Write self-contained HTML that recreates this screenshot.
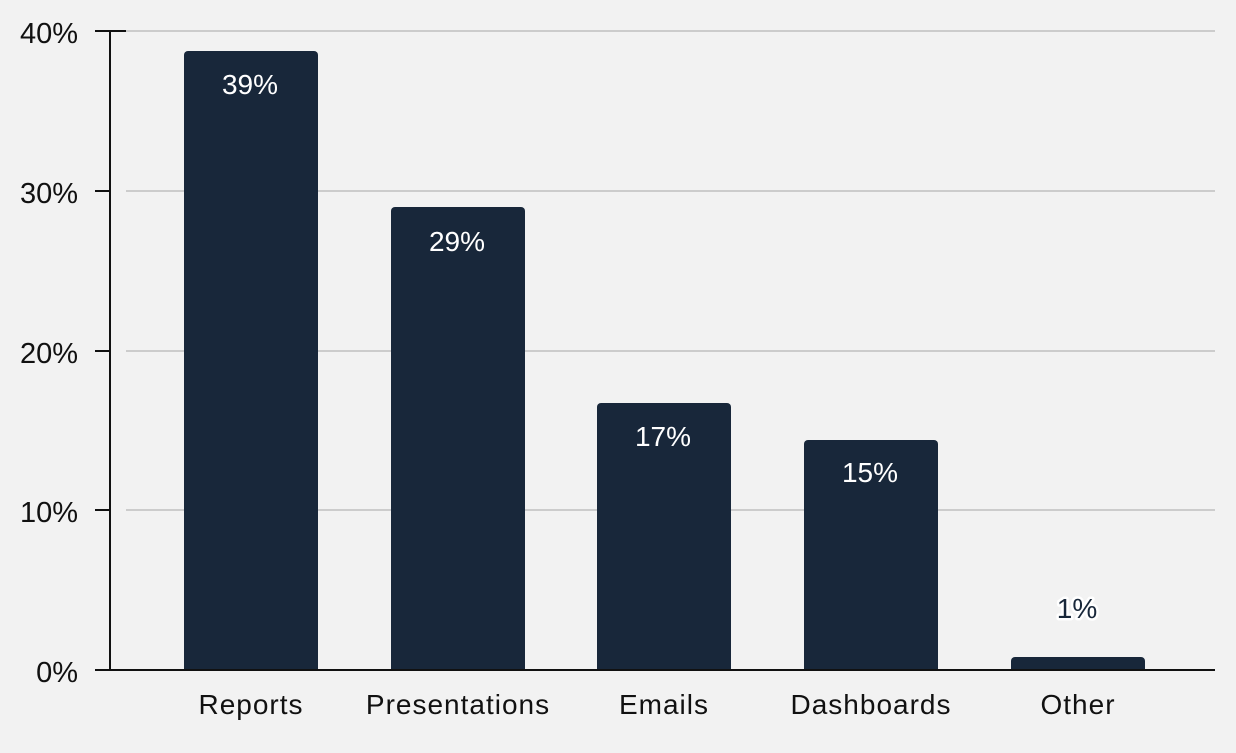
<!DOCTYPE html>
<html><head><style>body{margin:0;background:#f2f2f2}</style></head><body>
<svg width="1236" height="748" xmlns="http://www.w3.org/2000/svg" font-family="Liberation Sans, sans-serif">
<rect width="1236" height="748" fill="#f2f2f2"/>
<g stroke="#cccccc" stroke-width="2">
<line x1="126" y1="31" x2="1215" y2="31"/>
<line x1="126" y1="191" x2="1215" y2="191"/>
<line x1="126" y1="351" x2="1215" y2="351"/>
<line x1="126" y1="510" x2="1215" y2="510"/>
</g>
<g fill="#18273a">
<path d="M184 670V55a4 4 0 0 1 4-4h126a4 4 0 0 1 4 4V670z"/>
<path d="M391 670V211a4 4 0 0 1 4-4h126a4 4 0 0 1 4 4V670z"/>
<path d="M597 670V407a4 4 0 0 1 4-4h126a4 4 0 0 1 4 4V670z"/>
<path d="M804 670V444a4 4 0 0 1 4-4h126a4 4 0 0 1 4 4V670z"/>
<path d="M1011 670V661a4 4 0 0 1 4-4h126a4 4 0 0 1 4 4V670z"/>
</g>
<g stroke="#111" stroke-width="2">
<line x1="110" y1="31" x2="110" y2="670"/>
<line x1="95" y1="670" x2="1215" y2="670"/>
<line x1="95" y1="31" x2="126" y2="31"/>
<line x1="95" y1="191" x2="110" y2="191"/>
<line x1="95" y1="351" x2="110" y2="351"/>
<line x1="95" y1="510" x2="110" y2="510"/>
</g>
<g font-size="29" fill="#111" text-anchor="end">
<text x="78" y="43">40%</text><text x="78" y="203">30%</text><text x="78" y="363">20%</text><text x="78" y="522">10%</text><text x="78" y="682">0%</text>
</g>
<g font-size="28" fill="#111" text-anchor="middle" letter-spacing="1">
<text x="251" y="714">Reports</text><text x="458" y="714">Presentations</text><text x="664" y="714">Emails</text><text x="871" y="714">Dashboards</text><text x="1078" y="714">Other</text>
</g>
<g font-size="28" fill="#fff" text-anchor="middle">
<text x="250" y="94">39%</text><text x="457" y="251">29%</text><text x="663" y="446">17%</text><text x="870" y="482">15%</text>
</g>
<text x="1077" y="618" font-size="28" text-anchor="middle" fill="#18273a" stroke="#fff" stroke-width="5" paint-order="stroke" stroke-linejoin="round">1%</text>
</svg>
</body></html>
